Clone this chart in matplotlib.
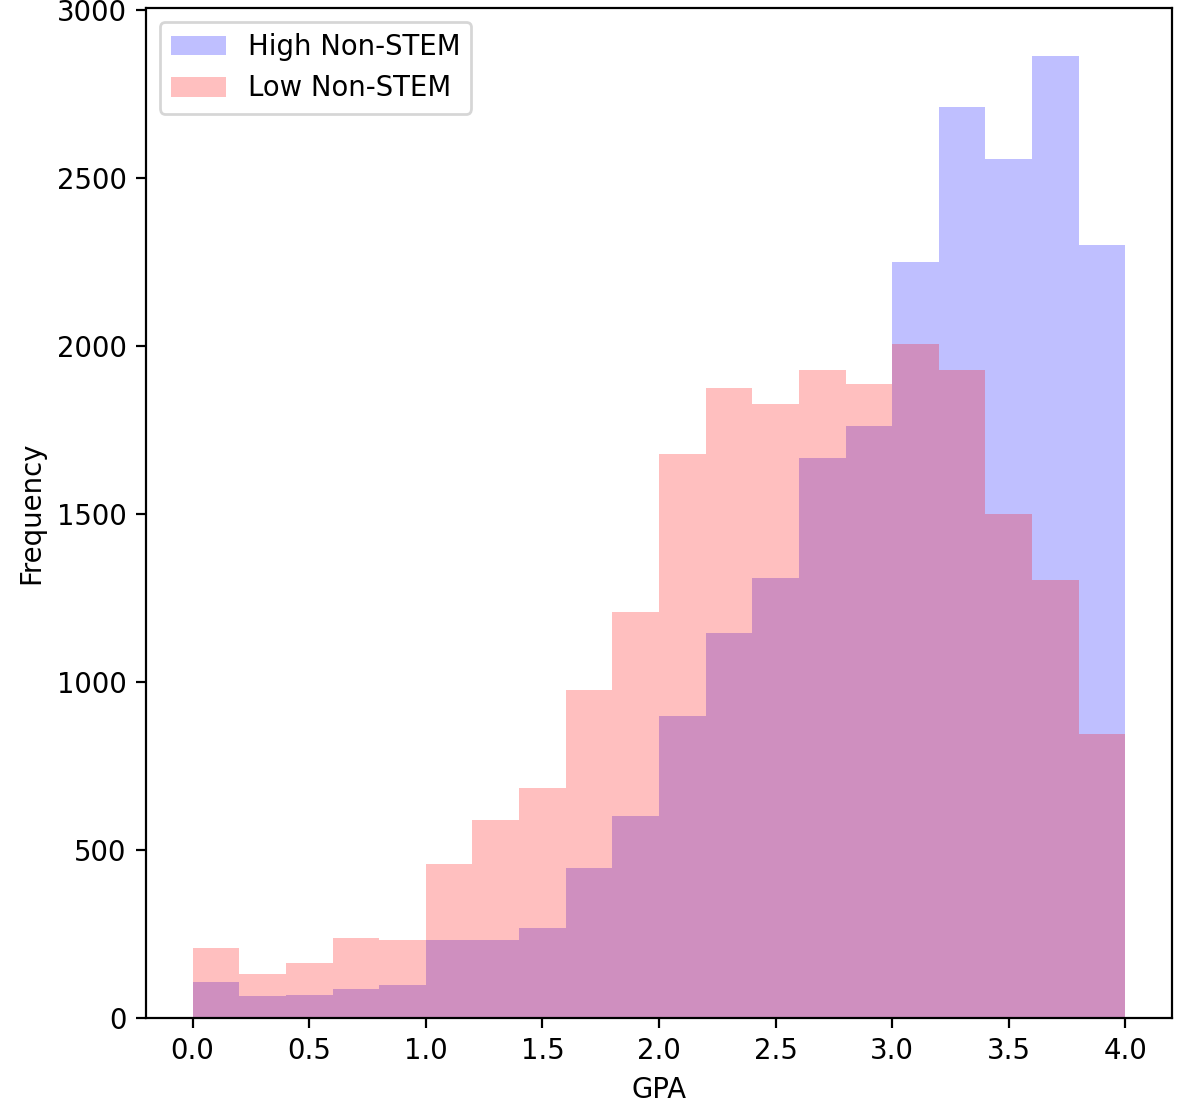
import numpy as np
import matplotlib
matplotlib.use('Agg')
import matplotlib.pyplot as plt

bin_edges = np.linspace(0, 4, 21)
high_counts = [106, 64, 69, 87, 99, 231, 232, 268, 446, 601,
               899, 1146, 1310, 1667, 1762, 2250, 2711, 2557, 2863, 2301]
low_counts = [207, 130, 165, 237, 231, 458, 589, 685, 976, 1208,
              1679, 1875, 1827, 1929, 1887, 2006, 1929, 1500, 1304, 845]
labels = ['High Non-STEM', 'Low Non-STEM']

centers = (bin_edges[:-1] + bin_edges[1:]) / 2

dpi = 198
fig = plt.figure(figsize=(1185/dpi, 1104/dpi), dpi=dpi)
ax = fig.add_axes([146/1185, 86/1104, (1172-146)/1185, (1018-8)/1104])
ax.hist(centers, bins=bin_edges, weights=high_counts, color='blue', alpha=0.25, label=labels[0])
ax.hist(centers, bins=bin_edges, weights=low_counts, color='red', alpha=0.25, label=labels[1])
ax.set_xlabel('GPA')
ax.set_ylabel('Frequency')
ax.legend(loc='upper left')
fig.savefig('out.png', dpi=dpi)
